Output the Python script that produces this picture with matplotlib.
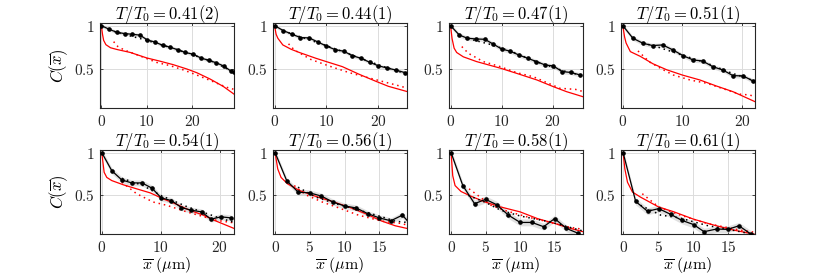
import matplotlib
matplotlib.use("Agg")
import matplotlib.pyplot as plt

plt.rcParams['mathtext.fontset'] = 'cm'
plt.rcParams['font.family'] = ['DejaVu Serif']

titles = ["0.41(2)", "0.44(1)", "0.47(1)", "0.51(1)",
          "0.54(1)", "0.56(1)", "0.58(1)", "0.61(1)"]
xmax = [29.2, 25.6, 25.9, 22.2, 22.4, 19.0, 19.1, 18.9]
xticks = [[0, 10, 20], [0, 10, 20], [0, 10, 20], [0, 10, 20],
          [0, 10, 20], [0, 5, 10, 15], [0, 5, 10, 15], [0, 5, 10, 15]]
band = [0.02, 0.02, 0.025, 0.025, 0.035, 0.035, 0.04, 0.04]

# measured correlation (black, with markers)
black_x = [
    [0, 1.7, 3.4, 5.1, 6.8, 8.5, 10.1, 11.8, 13.5, 15.2, 16.9, 18.5, 20.2, 21.9, 23.6, 25.2, 26.9, 28.6, 29.2],
    [0, 1.7, 3.4, 5.0, 6.7, 8.4, 10.0, 11.7, 13.4, 15.0, 16.7, 18.4, 20.0, 21.7, 23.4, 25.2],
    [0, 1.7, 3.3, 5.0, 6.7, 8.4, 10.0, 11.7, 13.4, 15.1, 16.8, 18.5, 20.1, 21.8, 23.5, 25.4],
    [0, 1.7, 3.4, 5.0, 6.7, 8.4, 10.1, 11.8, 13.4, 15.1, 16.8, 18.5, 20.2, 21.9],
    [0, 1.7, 3.4, 5.1, 6.8, 8.5, 10.1, 11.8, 13.5, 15.2, 16.9, 18.5, 20.2, 21.9],
    [0, 1.67, 3.33, 5.0, 6.67, 8.33, 10.0, 11.67, 13.33, 15.0, 16.67, 18.33, 20.0],
    [0, 1.7, 3.4, 5.0, 6.6, 8.3, 10.0, 11.7, 13.4, 15.0, 16.7, 18.4],
    [0, 1.8, 3.5, 5.1, 6.8, 8.4, 10.1, 11.6, 13.4, 15.0, 16.6, 18.3],
]
black_y = [
    [1.0, 0.958, 0.923, 0.908, 0.90, 0.89, 0.835, 0.81, 0.773, 0.75, 0.72, 0.69, 0.67, 0.627, 0.60, 0.573, 0.535, 0.473, 0.46],
    [1.0, 0.942, 0.90, 0.862, 0.858, 0.81, 0.765, 0.723, 0.704, 0.654, 0.623, 0.577, 0.538, 0.512, 0.488, 0.458],
    [1.0, 0.892, 0.854, 0.846, 0.842, 0.785, 0.73, 0.704, 0.66, 0.623, 0.585, 0.546, 0.535, 0.47, 0.46, 0.43],
    [1.0, 0.854, 0.796, 0.77, 0.777, 0.72, 0.654, 0.604, 0.592, 0.527, 0.488, 0.423, 0.42, 0.36],
    [1.0, 0.788, 0.68, 0.646, 0.646, 0.585, 0.47, 0.44, 0.358, 0.327, 0.308, 0.223, 0.25, 0.238],
    [1.0, 0.673, 0.538, 0.53, 0.492, 0.423, 0.377, 0.354, 0.288, 0.238, 0.204, 0.27, 0.12],
    [1.0, 0.615, 0.404, 0.454, 0.392, 0.27, 0.185, 0.185, 0.135, 0.23, 0.115, 0.058],
    [1.0, 0.43, 0.315, 0.346, 0.28, 0.21, 0.16, 0.077, 0.108, 0.104, 0.146, 0.05],
]

# black dotted fit
bfit_x = [
    [1.7, 5, 10, 15, 20, 25, 29.2],
    [1.7, 5, 10, 15, 20, 25.6],
    [3.4, 8, 12, 16, 20, 22, 25.9],
    [3.4, 6, 10, 14, 18, 22.2],
    [3.4, 7, 10, 14.4, 19.4, 22.4],
    [3.3, 5.9, 8.7, 12, 15.4, 17.3, 19],
    [2.5, 4.95, 7.2, 10, 14.4, 19.1],
    [2.5, 5.4, 8, 12, 16, 18.9],
]
bfit_y = [
    [0.95, 0.90, 0.83, 0.75, 0.665, 0.575, 0.46],
    [0.94, 0.87, 0.77, 0.66, 0.55, 0.44],
    [0.85, 0.78, 0.70, 0.60, 0.52, 0.48, 0.42],
    [0.80, 0.75, 0.66, 0.57, 0.46, 0.36],
    [0.70, 0.615, 0.50, 0.37, 0.25, 0.185],
    [0.596, 0.48, 0.404, 0.33, 0.25, 0.20, 0.185],
    [0.50, 0.42, 0.327, 0.26, 0.19, 0.085],
    [0.385, 0.27, 0.24, 0.15, 0.09, 0.04],
]

# red solid model curve
red_x = [
    [0, 0.25, 0.5, 1.0, 2.0, 3.4, 6.4, 10, 12.9, 15.8, 18.8, 21, 23.9, 26.8, 29.2],
    [0, 0.3, 0.64, 1.6, 3.2, 4.8, 8, 10, 13.1, 16.3, 19.5, 22, 25.6],
    [0, 0.3, 0.7, 1.2, 2.5, 5.1, 9.8, 12.9, 16.9, 20.1, 22.7, 25.9],
    [0, 0.3, 0.55, 1.27, 2.95, 5.06, 7.4, 10, 12.95, 15.7, 18.5, 22.2],
    [0, 0.4, 0.85, 1.7, 3.7, 5.9, 8.2, 10.4, 12.7, 14.9, 17.2, 19.4, 22.4],
    [0, 0.38, 0.86, 1.8, 3.5, 5.9, 8.2, 10.6, 13, 15.4, 17.3, 19],
    [0, 0.24, 0.58, 1.44, 2.9, 4.95, 7.2, 10, 12.5, 15, 17.3, 19.1],
    [0, 0.25, 0.63, 1.34, 2.5, 5.1, 7.3, 10.1, 13, 15.8, 18.9],
]
red_y = [
    [1, 0.9, 0.83, 0.78, 0.745, 0.725, 0.69, 0.627, 0.59, 0.55, 0.5, 0.457, 0.385, 0.30, 0.21],
    [1, 0.9, 0.854, 0.777, 0.727, 0.69, 0.623, 0.585, 0.527, 0.44, 0.36, 0.30, 0.24],
    [1, 0.85, 0.74, 0.69, 0.64, 0.585, 0.508, 0.45, 0.373, 0.296, 0.238, 0.18],
    [1, 0.87, 0.8, 0.7, 0.645, 0.56, 0.49, 0.43, 0.373, 0.304, 0.238, 0.123],
    [1, 0.77, 0.71, 0.673, 0.623, 0.577, 0.53, 0.46, 0.396, 0.327, 0.27, 0.2, 0.115],
    [1, 0.81, 0.71, 0.635, 0.558, 0.488, 0.43, 0.365, 0.288, 0.2, 0.146, 0.115],
    [1, 0.73, 0.615, 0.546, 0.49, 0.423, 0.365, 0.308, 0.23, 0.173, 0.115, 0.077],
    [1, 0.81, 0.654, 0.54, 0.48, 0.365, 0.308, 0.223, 0.154, 0.096, 0.046],
]

# red dotted fit
rfit_x = [
    [2.7, 3.6, 5, 8, 10, 12.2, 15, 18, 21, 24.6, 27.5, 29.2],
    [2.7, 3.8, 7, 10.5, 14.4, 20.6, 23.5, 25.6],
    [2.2, 3.5, 6.4, 9.7, 12.9, 16.2, 21.4, 24.4, 25.9],
    [2.55, 4.5, 6.8, 8.5, 11.3, 14.1, 19.6, 21.3, 22.2],
    [3.4, 5.9, 8.7, 11, 14.4, 19.4, 22.4],
    [2.76, 4.4, 6.8, 9.2, 12, 15.4, 18.2, 19],
    [2.6, 5.8, 7.7, 11, 14.4, 16.8, 19.1],
    [2.75, 5.1, 8.2, 12, 16.7, 18.9],
]
rfit_y = [
    [0.815, 0.76, 0.72, 0.66, 0.62, 0.575, 0.54, 0.49, 0.43, 0.354, 0.29, 0.265],
    [0.79, 0.72, 0.61, 0.535, 0.458, 0.36, 0.315, 0.28],
    [0.758, 0.68, 0.585, 0.527, 0.458, 0.41, 0.277, 0.265, 0.24],
    [0.708, 0.58, 0.49, 0.43, 0.373, 0.335, 0.21, 0.2, 0.18],
    [0.654, 0.52, 0.423, 0.385, 0.308, 0.21, 0.18],
    [0.615, 0.508, 0.423, 0.354, 0.27, 0.2, 0.173, 0.154],
    [0.577, 0.385, 0.327, 0.25, 0.185, 0.135, 0.104],
    [0.52, 0.365, 0.27, 0.173, 0.096, 0.07],
]

fig = plt.figure(figsize=(8.3, 2.76), dpi=100)
lefts = [100, 273, 449, 621]
W = 830.0
H = 276.0
row_top = [23, 150]
row_bot = [108, 234]
frame_col = '#262626'

for i in range(8):
    r, c = divmod(i, 4)
    ax = fig.add_axes([lefts[c] / W, 1 - row_bot[r] / H, 134 / W, (row_bot[r] - row_top[r]) / H])
    bx, by = black_x[i], black_y[i]
    lo = [v - band[i] for v in by]
    hi = [v + band[i] for v in by]
    ax.fill_between(bx, lo, hi, color='#c8c8c8', alpha=0.55, linewidth=0, zorder=1)
    ax.plot(red_x[i], red_y[i], color='#ff0000', lw=0.9, zorder=2)
    ax.plot(rfit_x[i], rfit_y[i], color='#ff0000', lw=1.1, ls=(0, (1, 2.5)), zorder=2)
    ax.plot(bfit_x[i], bfit_y[i], color='black', lw=1.1, ls=(0, (1, 2.5)), zorder=3)
    ax.plot(bx, by, color='black', lw=0.9, marker='o', ms=2.3, zorder=4)

    ax.set_xlim(-0.3, xmax[i])
    ax.set_ylim(0.05, 1.03)
    ax.set_xticks(xticks[i])
    ax.set_xticklabels(['$%d$' % t for t in xticks[i]])
    ax.set_yticks([0.5, 1])
    ax.set_yticklabels(['$0.5$', '$1$'])
    ax.grid(True, color='#dcdcdc', lw=0.7)
    ax.set_axisbelow(True)
    ax.tick_params(direction='in', top=True, right=True, length=2.5, width=0.6,
                   labelsize=11, colors=frame_col, pad=4)
    for s in ax.spines.values():
        s.set_color(frame_col)
        s.set_linewidth(0.8)
    ax.set_title('$T/T_0 = %s$' % titles[i], fontsize=12, pad=3)
    if c == 0:
        ax.set_ylabel(r'$C(\overline{x})$', fontsize=12, labelpad=3)
    if r == 1:
        ax.set_xlabel(r'$\overline{x}\ (\mu\mathrm{m})$', fontsize=11.5, labelpad=0)

fig.savefig('out.png', dpi=100)
